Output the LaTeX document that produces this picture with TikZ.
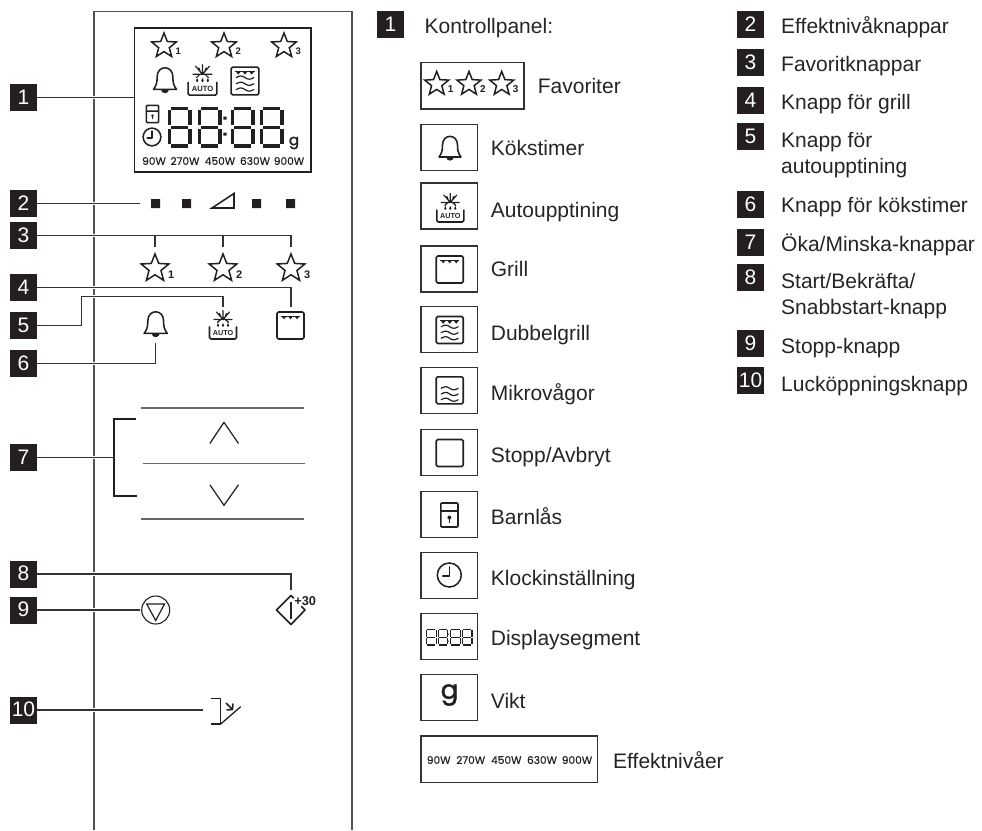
\documentclass[tikz,border=0pt]{standalone}
\usepackage{fontspec}
\setmainfont{Liberation Sans}
\newfontfamily\popfont[FakeBold=0.5]{Poppins}
\newfontfamily\popbold[FakeBold=1.6]{Poppins}
\definecolor{ink}{HTML}{231F20}
\definecolor{lead}{HTML}{333333}
\definecolor{txt}{HTML}{262425}
\newcounter{icn}
\tikzset{
  badge/.style={fill=ink,text=white,minimum width=27pt,minimum height=27pt,inner sep=0pt,text height=15pt,text depth=2pt,font=\fontsize{21}{24}\selectfont},
  lbl/.style={anchor=base west,inner sep=0pt,text=txt,font=\fontsize{21}{24}\selectfont},
  leader/.style={draw=lead,line width=1.1pt,preaction={draw=white,line width=3.2pt}},
  panelline/.style={draw=lead!85!white,line width=1.2pt},
  keyline/.style={draw=lead!75!white,line width=1.1pt},
  legbox/.style={draw=lead,line width=1.15pt},
  ico/.style={draw=ink,line width=1.55pt,line join=round,line cap=round},
  pw/.style={inner sep=0pt,text=ink,font=\popfont\fontsize{10.6}{12}\selectfont},
  gm/.style={inner sep=0pt,text=ink,font=\popbold\fontsize{#1}{#1}\selectfont},
}
\newcommand{\mystar}[5]{% x y R num numsize
  \begin{scope}[shift={(#1,#2)},scale=#3]
    \draw[ico,line join=miter,line width=1.5pt] (-90:1)--(-54:.43)--(-18:1)--(18:.43)--(54:1)--(90:.43)--(126:1)--(162:.43)--(198:1)--(234:.43)--cycle;
    \stepcounter{icn}
    \node[inner sep=0pt,text=ink,font=\bfseries\fontsize{#5}{#5}\selectfont] (ic\theicn) at (1.1,.42) {#4};
  \end{scope}}
\newcommand{\mybell}[3]{%
  \begin{scope}[shift={(#1,#2)},scale=#3]
    \draw[ico] (-11,9) .. controls (-8,5) and (-7.5,2) .. (-7.5,-3) .. controls (-7.5,-14.5) and (7.5,-14.5) .. (7.5,-3) .. controls (7.5,2) and (8,5) .. (11,9) -- cycle;
    \fill[ink] (-3.8,9) arc (180:0:3.8 and 3.6) -- cycle;
  \end{scope}}
\newcommand{\myauto}[4]{% x y s fontsize
  \begin{scope}[shift={(#1,#2)},scale=#3]
    \draw[ico,line width=1.15pt] (0,-19.5)--(0,-10.5) (-9,-10.5)--(9,-10.5) (-6.5,-18)--(0,-10.5)--(6.5,-18) (-3.5,-16.5)--(-2.2,-13.5) (3.5,-16.5)--(2.2,-13.5) (-5.5,-7.5)--(-2.5,-10.5) (5.5,-7.5)--(2.5,-10.5);
    \foreach \dx in {-5,0,5} {\fill[ink] (\dx,-4.3) circle (1.15) (\dx-1,-4.8)--(\dx,-7)--(\dx+1,-4.8)--cycle;}
    \draw[ico,rounded corners=1.5pt] (-13.5,-3)--(-13.5,9)--(13.5,9)--(13.5,-3);
    \stepcounter{icn}
    \node[inner sep=0pt,text=ink,font=\bfseries\fontsize{#4}{#4}\selectfont] (ic\theicn) at (0,3) {AUTO};
  \end{scope}}
\newcommand{\mybox}[3]{%
  \begin{scope}[shift={(#1,#2)},scale=#3]
    \draw[ico,line width=1.6pt,rounded corners=1.5pt] (-13.5,-13.5) rectangle (13.5,13.5);
  \end{scope}}
\newcommand{\mymarks}[3]{%
  \begin{scope}[shift={(#1,#2)},scale=#3]
    \draw[ink,line width=1pt] (-9.5,-9.5)--(9.5,-9.5);
    \foreach \dx in {-6.5,0,6.5} {\fill[ink] (\dx-2.7,-9.5)--(\dx+2.7,-9.5)--(\dx,-6.2)--cycle;}
  \end{scope}}
\newcommand{\mywaves}[6]{% x y s y1 y2 y3
  \begin{scope}[shift={(#1,#2)},scale=#3]
    \foreach \wy in {#4,#5,#6} {\draw[ink,line width=1.2pt,line cap=round] (-8.5,\wy) .. controls (-5,\wy-2.1) and (-3,\wy-2.1) .. (0,\wy) .. controls (3,\wy+2.1) and (5,\wy+2.1) .. (8.5,\wy);}
  \end{scope}}
\newcommand{\mylock}[3]{%
  \begin{scope}[shift={(#1,#2)},scale=#3]
    \draw[ico,rounded corners=1pt] (-8.6,-12) rectangle (8.6,12) (-8.6,-4)--(8.6,-4);
    \fill[ink] (0,2.5) circle (2);
    \draw[ink,line width=1.2pt] (0,2.5)--(0,7.5);
  \end{scope}}
\newcommand{\myclock}[3]{%
  \begin{scope}[shift={(#1,#2)},scale=#3]
    \draw[ico] (0,0) circle (12);
    \draw[ico] (0,-8)--(0,1)--(-6.5,1);
  \end{scope}}
\newcommand{\mydigit}[5]{% x y w h lw
  \begin{scope}[shift={(#1,#2)}]
    \pgfmathsetmacro{\wa}{#3}\pgfmathsetmacro{\hh}{#4}\pgfmathsetmacro{\gp}{#5*.62}
    \draw[ink,line width=#5pt]
      (\gp,0)--(\wa-\gp,0)
      (\gp,\hh/2)--(\wa-\gp,\hh/2)
      (\gp,\hh)--(\wa-\gp,\hh)
      (0,\gp)--(0,\hh/2-\gp)
      (\wa,\gp)--(\wa,\hh/2-\gp)
      (0,\hh/2+\gp)--(0,\hh-\gp)
      (\wa,\hh/2+\gp)--(\wa,\hh-\gp);
  \end{scope}}
\begin{document}
\begin{tikzpicture}[x=1pt,y=-1pt]
\useasboundingbox (0,0) rectangle (982,830);
% panel outline
\draw[panelline] (94,830)--(94,11.5)--(352,11.5)--(352,830);

% badges left
\node[badge] (b1) at (23.5,97.5) {1};
\node[badge] (b2) at (23.5,203.5) {2};
\node[badge] (b3) at (23.5,235.5) {3};
\node[badge] (b4) at (23.5,287.5) {4};
\node[badge] (b5) at (23.5,325.5) {5};
\node[badge] (b6) at (23.5,363.5) {6};
\node[badge] (b7) at (23.5,457.5) {7};
\node[badge] (b8) at (23.5,574) {8};
\node[badge] (b9) at (23.5,610) {9};
\node[badge] (b10) at (23.5,710) {10};

% connector ends
\coordinate (c1) at (133.5,97.5);
\coordinate (c2) at (140,203.5);
\coordinate (c3a) at (155,235.5);
\coordinate (c3b) at (223,235.5);
\coordinate (c3c) at (291,235.5);
\coordinate (c3ad) at (155,247);
\coordinate (c3bd) at (223,247);
\coordinate (c3cd) at (291,247);
\coordinate (c4) at (291,307);
\coordinate (c5) at (223,307);
\coordinate (c6) at (155.7,342.5);
\coordinate (c7) at (114,457.5);
\coordinate (c8) at (291,590);
\coordinate (c9) at (139.5,610);
\coordinate (c10) at (203,710);

% leaders
\draw[leader] (b1.east)--(c1);
\draw[leader] (b2.east)--(c2);
\draw[leader] (b5.east)-|(81.7,296.3)-|(c5);
\draw[leader] (b3.east)--(c3c)--(c3cd);
\draw[draw=lead,line width=1.1pt] (c3a)--(c3ad) (c3b)--(c3bd);
\draw[leader] (b4.east)-|(c4);
\draw[leader] (b6.east)-|(c6);
\draw[leader] (b7.east)--(c7);
\draw[leader] (b8.east)-|(c8);
\draw[leader] (b9.east)--(c9);
\draw[leader] (b10.east)--(c10);

% display
\draw[draw=ink,line width=1.4pt] (134.7,28) rectangle (311,172);
\mystar{164}{46}{13}{1}{9.5}
\mystar{224}{46}{13}{2}{9.5}
\mystar{284}{46}{13}{3}{9.5}
\mybell{165}{80}{1.05}
\myauto{202.5}{85.5}{1.07}{7.6}
\mybox{245}{81}{1.03}
\mymarks{245}{81}{1.03}
\mywaves{245}{81}{1.03}{-3.3}{2.7}{8.3}
\mylock{152.5}{114}{.72}
\myclock{152}{137}{.74}
\mydigit{169.5}{108.5}{20.5}{37.5}{3.2}
\mydigit{199.5}{108.5}{20.5}{37.5}{3.2}
\mydigit{232.5}{108.5}{20.5}{37.5}{3.2}
\mydigit{261.5}{108.5}{20.5}{37.5}{3.2}
\fill[ink] (223.4,116.5) rectangle +(3.2,3.2) (223.4,132.5) rectangle +(3.2,3.2);
\node[gm=15] (dg) at (294,143) {g};
\node[pw] (p1) at (154,161) {90W};
\node[pw] (p2) at (185,161) {270W};
\node[pw] (p3) at (220,161) {450W};
\node[pw] (p4) at (255,161) {630W};
\node[pw] (p5) at (289,161) {900W};

% row 2
\fill[ink] (151,199) rectangle (160,208) (182,199) rectangle (191,208) (252,199) rectangle (261,208) (286,199) rectangle (295,208);
\draw[ico,line join=miter] (234,193.5)--(234,208)--(212,208)--cycle;

% row 3-6 icons
\mystar{155}{268.5}{14.6}{1}{11}
\mystar{223}{268.5}{14.6}{2}{11}
\mystar{291}{268.5}{14.6}{3}{11}
\mybell{155.7}{324}{1.05}
\myauto{223}{330}{1}{7.2}
\mybox{290.5}{325.5}{1}
\mymarks{290.5}{325.5}{1}

% up/down keys
\draw[keyline] (141,408)--(303.7,408);
\draw[keyline] (143,463.7)--(305,463.7);
\draw[keyline] (141,519)--(303.7,519);
\draw[draw=ink,line width=1.8pt] (135.7,419)-|(114,496.3)--(136.7,496.3);
\draw[ico,line width=1.2pt] (210,443.3)--(224,422.3)--(238.3,443.3);
\draw[ico,line width=1.2pt] (210,485)--(224,505.3)--(238.3,485);

% stop
\draw[ink,line width=1.1pt] (155.7,610) circle (14);
\draw[ink,line width=1.2pt,line join=miter] (146.7,604)--(164.5,604)--(155.7,620.5)--cycle;
% start
\draw[ico,line width=1.6pt] (301.5,606.5)--(305,610)--(291,624.5)--(276.5,610)--(291,595.5)--(293.5,598);
\draw[ink,line width=1.7pt] (291,602)--(291,618.5);
\node[inner sep=0pt,text=ink,font=\bfseries\fontsize{12.8}{13}\selectfont] (n30) at (305.2,601.5) {+30};
% door
\draw[ico,line cap=butt,line join=miter,line width=1.5pt] (210.7,698.7)--(220.7,698.7)--(220.7,724)--(210.7,724);
\draw[ink,line width=1.3pt] (220.7,724)--(240.7,706.7);
\draw[ink,line width=1.5pt] (226,703)--(232.5,709.5) (226.5,710)--(232.5,709.5)--(233,703.5);

% legend left
\node[badge] (l1) at (390.5,24.5) {1};
\node[lbl] (t1) at (424.5,33.5) {Kontrollpanel:};

\node[legbox,rectangle,minimum width=103pt,minimum height=46.7pt,inner sep=0pt] (k0) at (472.5,85.7) {};
\mystar{436.7}{84}{12.6}{1}{10}
\mystar{469}{84}{12.6}{2}{10}
\mystar{501.7}{84}{12.6}{3}{10}
\node[lbl] (t0) at (537.7,93.3) {Favoriter};

\tikzset{lsq/.style={legbox,minimum width=56.7pt,minimum height=46pt,inner sep=0pt}}
\node[lsq] (k1) at (449.3,147.5) {};
\mybell{450}{148}{1}
\node[lbl] at (490.7,155) (t2) {Kökstimer};

\node[lsq] (k2) at (449.3,206) {};
\myauto{450.3}{213}{1}{7.2}
\node[lbl] at (490.7,217.7) (t3) {Autoupptining};

\node[lsq] (k3) at (449.3,269) {};
\mybox{449.7}{269.5}{1}
\mymarks{449.7}{269.5}{1}
\node[lbl] at (490.7,276.7) (t4) {Grill};

\node[lsq] (k4) at (449.3,329.7) {};
\mybox{449.7}{330}{1}
\mymarks{449.7}{330}{1}
\mywaves{449.7}{330}{1}{-3.3}{2.7}{8.3}
\node[lbl] at (490.7,340) (t5) {Dubbelgrill};

\node[lsq] (k5) at (449.3,390.3) {};
\mybox{449.7}{390.3}{1}
\mywaves{449.7}{390.3}{1}{-2}{3.7}{9.4}
\node[lbl] at (490.7,400.7) (t6) {Mikrovågor};

\node[lsq] (k6) at (449.3,452.5) {};
\mybox{449.7}{453}{1}
\node[lbl] at (490.7,462.3) (t7) {Stopp/Avbryt};

\node[lsq] (k7) at (449.3,514.5) {};
\mylock{449.4}{515}{1}
\node[lbl] at (490.7,524) (t8) {Barnlås};

\node[lsq] (k8) at (449.3,575.7) {};
\myclock{449.3}{575}{1}
\node[lbl] at (490.7,585) (t9) {Klockinställning};

\node[lsq] (k9) at (449.3,636.8) {};
\mydigit{426.2}{629.5}{10}{15.5}{1.2}
\mydigit{438.2}{629.5}{9.5}{15.5}{1.2}
\mydigit{450.5}{629.5}{10}{15.5}{1.2}
\mydigit{462.5}{629.5}{9.5}{15.5}{1.2}
\fill[ink] (448.1,633.5) rectangle +(1,1) (448.1,640.5) rectangle +(1,1);
\node[lbl] at (490.7,645) (t10) {Displaysegment};

\node[lsq] (k10) at (449.3,697.8) {};
\node[gm=26] (gg) at (449.5,695) {g};
\node[lbl] at (490.7,708) (t11) {Vikt};

\node[legbox,minimum width=176.7pt,minimum height=46.7pt,inner sep=0pt] (k11) at (509.3,759.3) {};
\node[pw] (q1) at (438.7,760) {90W};
\node[pw] (q2) at (470.7,760) {270W};
\node[pw] (q3) at (506.3,760) {450W};
\node[pw] (q4) at (542,760) {630W};
\node[pw] (q5) at (577,760) {900W};
\node[lbl] at (613,768) (t12) {Effektnivåer};

% legend right
\node[badge] (r2) at (750.5,24.5) {2};
\node[lbl] at (781,33) (u2) {Effektnivåknappar};
\node[badge] (r3) at (750.5,62.5) {3};
\node[lbl] at (781,71) (u3) {Favoritknappar};
\node[badge] (r4) at (750.5,100.5) {4};
\node[lbl] at (781,109) (u4) {Knapp för grill};
\node[badge] (r5) at (750.5,136.5) {5};
\node[lbl] at (781,147) (u5) {Knapp för};
\node[lbl] at (781,173) (u5b) {autoupptining};
\node[badge] (r6) at (750.5,204.5) {6};
\node[lbl] at (781,212) (u6) {Knapp för kökstimer};
\node[badge] (r7) at (750.5,242.5) {7};
\node[lbl] at (781,251) (u7) {Öka/Minska-knappar};
\node[badge] (r8) at (750.5,277.5) {8};
\node[lbl] at (781,288) (u8) {Start/Bekräfta/};
\node[lbl] at (781,314) (u8b) {Snabbstart-knapp};
\node[badge] (r9) at (750.5,343.5) {9};
\node[lbl] at (781,353) (u9) {Stopp-knapp};
\node[badge] (r10) at (750.5,380.5) {10};
\node[lbl] at (781,391) (u10) {Lucköppningsknapp};
\end{tikzpicture}
\end{document}
